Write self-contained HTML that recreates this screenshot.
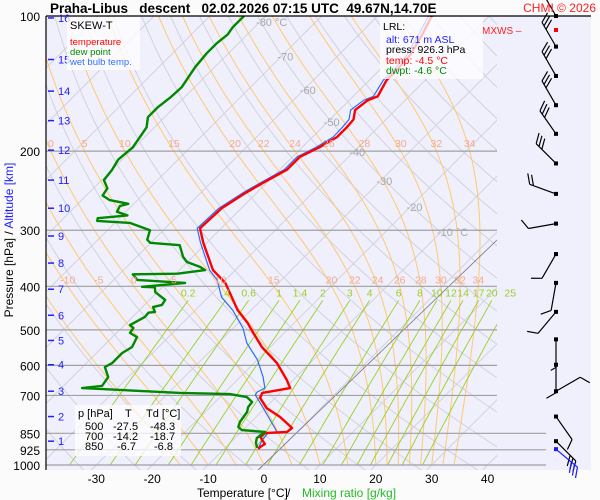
<!DOCTYPE html>
<html><head><meta charset="utf-8">
<style>
html,body{margin:0;padding:0;background:#fbfbfb;}
svg{display:block;font-family:"Liberation Sans",sans-serif;}
</style></head>
<body>
<svg id="chart" width="600" height="500" viewBox="0 0 600 500">
<defs>
<clipPath id="plotclip"><rect x="46" y="16" width="451" height="454"/></clipPath>
<clipPath id="plotclip2"><rect x="46" y="16" width="545" height="454"/></clipPath>
</defs>
<rect x="46" y="16" width="545" height="454" fill="#f0f0fd"/>
<g id="grid" clip-path="url(#plotclip)"></g>
<g id="plines"></g>
<g id="series" clip-path="url(#plotclip2)"></g>
<g id="winds"></g>
<line x1="46" y1="16" x2="591" y2="16" stroke="#000" stroke-width="1.2"/>
<line x1="46" y1="16" x2="46" y2="470" stroke="#000" stroke-width="1.2"/>
<g id="labels"></g>

<text x="50" y="13" font-size="13.5" font-weight="bold" fill="#000" xml:space="preserve">Praha-Libus   descent   02.02.2026 07:15 UTC  49.67N,14.70E</text>
<text x="596" y="12" font-size="12" fill="#ff2020" text-anchor="end">CHMI © 2026</text>
<text x="482" y="34" font-size="10" fill="#ff2020">MXWS –</text>

<g>
<rect x="67" y="17" width="73" height="53" fill="#ffffff" fill-opacity="0.75"/>
<text x="70" y="29" font-size="11" fill="#000">SKEW-T</text>
<text x="70" y="45" font-size="9.5" fill="#ff0000">temperature</text>
<text x="70" y="55" font-size="9.5" fill="#008800">dew point</text>
<text x="70" y="65" font-size="9.5" fill="#3070ff">wet bulb temp.</text>
</g>

<g>
<rect x="380" y="17" width="103" height="62" fill="#ffffff" fill-opacity="0.75"/>
<text x="383" y="30" font-size="10.5" fill="#000">LRL:</text>
<text x="386" y="43" font-size="10.5" fill="#2020ff">alt: 671 m ASL</text>
<text x="386" y="53" font-size="10.5" fill="#000">press: 926.3 hPa</text>
<text x="386" y="64" font-size="10.5" fill="#ff0000">temp: -4.5 °C</text>
<text x="386" y="74" font-size="10.5" fill="#008800">dwpt: -4.6 °C</text>
</g>

<g font-size="11" fill="#000">
<rect x="75" y="405" width="106" height="51" fill="#ffffff" fill-opacity="0.75"/>
<text x="78" y="417">p [hPa]</text><text x="125" y="417">T</text><text x="146" y="417">Td [°C]</text>
<text x="85" y="430">500</text><text x="113" y="430">-27.5</text><text x="150" y="430">-48.3</text>
<text x="85" y="440">700</text><text x="113" y="440">-14.2</text><text x="150" y="440">-18.7</text>
<text x="85" y="450">850</text><text x="117" y="450">-6.7</text><text x="154" y="450">-6.8</text>
</g>

<text y="497" font-size="12"><tspan x="197" fill="#000">Temperature [°C]</tspan><tspan x="287" fill="#000">/</tspan><tspan x="302" fill="#22bb22">Mixing ratio [g/kg]</tspan></text>
<text transform="translate(13,240) rotate(-90)" font-size="12" text-anchor="middle"><tspan fill="#000">Pressure [hPa]  /  </tspan><tspan fill="#2020ff">Altitude [km]</tspan></text>
</svg>
<script>
// ---- data ----
const pressureLevels = [100,200,300,400,500,600,700,850,925,1000];
const altKm = [1,2,3,4,5,6,7,8,9,10,11,12,13,14,15,16];
const altP = [885,780,685,598,528,464,406,355,309,268,232,199,171,147,125,101];
const xTicks = [-30,-20,-10,0,10,20,30,40];
const isoLabelT = [-80,-70,-60,-50,-40,-30,-20,-10];
const isoLabelP = [103,123,146,172,201,233,266,303];
const thetaW = [-15,-10,-5,0,5,10,15,20,22,24,26,28,30,32,34];
const thetaW200Labels = [0,5,10,15,20,22,24,26,28,30,32,34];
const thetaW400Labels = [-10,-5,0,5,10,15,20,22,24,26,28,30,32,34];
const mixRatios = [0.2,0.4,0.6,1,1.4,2,3,4,6,8,10,12,14,17,20,25];
const mixLabels = ["0.2",".4","0.6","1","1.4","2","3","4","6","8","10","12","14","17","20","25"];

const tempP = [100,110,122,133,139,151,154,162,170,177,186,196,206,220,235,247,268,297,320,368,393,452,483,493,546,593,647,674,691,709,747,782,827,844,849,866,898,912,921];
const tempT = [-50.3,-48.7,-47.2,-46.9,-46.9,-45.6,-46.7,-47.2,-45.8,-45.6,-45.6,-46.9,-48.7,-48.7,-50.6,-51.9,-53.5,-53.8,-50.6,-44.0,-39.5,-32.4,-28.3,-27.2,-21.5,-15.9,-11.1,-9.1,-13.2,-12.7,-9.7,-5.7,-1.6,-1.8,-5.5,-5.7,-3.6,-3.9,-3.9];

const wbP = [100,110,122,133,139,151,154,162,170,177,186,196,206,220,235,247,268,297,320,368,387,423,452,495,535,584,637,674,688,698,743,827,844,849,881,903,916];
const wbT = [-50.9,-49.3,-47.8,-47.5,-47.5,-46.4,-47.4,-48.0,-46.6,-46.4,-46.3,-47.5,-49.2,-49.2,-51.1,-52.4,-54.0,-54.3,-51.1,-44.6,-41.5,-37.6,-33.3,-28.3,-24.9,-19.9,-15.9,-13.6,-14.3,-14.1,-10.6,-4.7,-3.6,-5.0,-4.8,-4.3,-4.1];

const dewP = [100,106,110,115,121,130,144,152,160,168,177,196,209,220,232,242,251,257,262,265,273,278,282,286,289,300,315,320,324,344,353,362,368,375,376,387,393,401,402,412,429,440,445,456,458,468,488,495,508,519,546,563,593,605,637,667,674,691,695,706,724,743,762,802,823,836,844,853,871,893,916];
const dewT = [-83.9,-83.9,-83.5,-83.9,-83.9,-83.5,-82.3,-82.5,-83.0,-83.0,-81.4,-80.3,-80.7,-80.0,-79.6,-77.5,-77.1,-75.0,-71.0,-72.1,-71.6,-69.1,-73.9,-73.5,-67.3,-62.4,-61.2,-60.1,-54.4,-51.7,-50.1,-46.9,-45.4,-49.7,-57.6,-55.8,-46.7,-53.7,-51.3,-50.4,-47.2,-46.9,-48.1,-46.9,-47.9,-47.8,-49.0,-47.9,-47.6,-45.6,-44.7,-45.4,-45.4,-46.0,-43.6,-43.1,-46.3,-27.9,-18.8,-15.2,-13.4,-13.2,-12.5,-12.0,-11.4,-10.2,-5.7,-5.9,-6.1,-5.4,-4.3];

const windP = [100,117,136,158,183,213,249,290,339,393,456,525,598,685,780,885];
const windDir = [330,330,330,330,325,315,290,260,210,190,220,180,180,60,145,135];
const windSpd = [25,30,30,30,30,30,20,10,10,10,10,5,10,10,10,30];
const surfWindP = [922];
const surfWindDir = [130];
const surfWindSpd = [30];

// ---- axes ----
const NS = "http://www.w3.org/2000/svg";
function yP(p){ return 16 + 449*Math.log10(p/100); }
function xT(T,y){ return 264 + 5.59*T + (465 - y); }
function mk(tag, attrs, parent){ const e=document.createElementNS(NS,tag); for(const k in attrs) e.setAttribute(k,attrs[k]); parent.appendChild(e); return e; }
function pathFrom(pts){ return pts.map((q,i)=>(i?"L":"M")+q[0].toFixed(1)+","+q[1].toFixed(1)).join(""); }

const grid = document.getElementById("grid");
const plines = document.getElementById("plines");
const series = document.getElementById("series");
const labels = document.getElementById("labels");
const winds = document.getElementById("winds");

// isotherms
for (let T=-160; T<=50; T+=10){
  const pts=[[xT(T,470),470],[xT(T,16),16]];
  const l = mk("path",{d:pathFrom(pts),stroke:"#d2d2dc","stroke-width":1,fill:"none"},grid);
  
  
}
// dry adiabats
for (let th=220; th<=500; th+=10){
  const pts=[];
  for (let p=1050; p>=95; p-=10){ const y=yP(p); pts.push([xT(th*Math.pow(p/1000,0.2857)-273.15,y),y]); }
  const l = mk("path",{d:pathFrom(pts),stroke:"#d2d2dc","stroke-width":1,fill:"none"},grid);
  
  
}
// moist adiabats
function es(T){ return 6.112*Math.exp(17.67*T/(T+243.5)); }
function dTdp(p,T){
  const Tk=T+273.15, e=es(T), rs=0.622*e/(p-e);
  const Rd=287, Cp=1004, Lv=2.5e6;
  return (Rd*Tk + Lv*rs)/(Cp + Lv*Lv*rs*0.622/(Rd*Tk*Tk))/p;
}
const moistAt = {};
thetaW.forEach(tw=>{
  let T=tw; const pts=[]; moistAt[tw]={};
  for (let p=1000; p>=99; p-=1){
    const y=yP(p);
    if (p%5===0) pts.push([xT(T,y),y]);
    if (p===200) moistAt[tw][200]=xT(T,y);
    if (p===400) moistAt[tw][400]=xT(T,y);
    T += dTdp(p,T)*(-1);
  }
  const l = mk("path",{d:pathFrom(pts),stroke:"#ffc870","stroke-width":1,fill:"none"},grid);
  
  
});
// mixing ratio lines
function tdFromW(w,p){ const e=w*p/(622+w); const a=Math.log(e/6.112); return 243.5*a/(17.67-a); }
mixRatios.forEach((w,i)=>{
  const pts=[];
  for (let p=430; p<=1000; p+=10){ const y=yP(p); pts.push([xT(tdFromW(w,p),y),y]); }
  const l = mk("path",{d:pathFrom(pts),stroke:"#99d020","stroke-width":0.9,fill:"none"},grid);
  
  
  const t = mk("text",{x:pts[0][0],y:yP(430)-4,"font-size":10.5,fill:"#99d020","text-anchor":"middle"},labels);
  t.textContent = mixLabels[i];
  
  
});
// reference diagonal line
{
  const l = mk("line",{x1:258,y1:470,x2:497,y2:240,stroke:"#707080","stroke-width":0.8},grid);
  
  
}
// moist adiabat labels
thetaW200Labels.forEach(tw=>{
  const t = mk("text",{x:moistAt[tw][200],y:yP(200)-4,"font-size":10.5,fill:"#f4a88a","text-anchor":"middle"},labels);
  t.textContent = tw;
  
  
});
thetaW400Labels.forEach(tw=>{
  const t = mk("text",{x:moistAt[tw][400],y:yP(400)-3,"font-size":10.5,fill:"#f4a88a","text-anchor":"middle"},labels);
  t.textContent = tw;
  
  
});
// isotherm labels
isoLabelT.forEach((T,i)=>{
  const y=yP(isoLabelP[i]);
  const t = mk("text",{x:xT(T,y)-4,y:y+4,"font-size":11,fill:"#a8a8a8"},labels);
  t.textContent = (i===0||i===isoLabelT.length-1) ? T+" °C" : T;
  
  
});
// pressure lines and labels
pressureLevels.forEach(p=>{
  const y=yP(p);
  const x2 = p>=850 ? 546 : 497;
  if (p>100){
    const l = mk("line",{x1:46,y1:y,x2:x2,y2:y,stroke:"#a0a0a0","stroke-width":1.2},plines);
    
    
  }
  const t = mk("text",{x:40,y:y+5,"font-size":12,fill:"#000","text-anchor":"end"},labels);
  t.textContent = p;
  
  
});
// altitude ticks
altKm.forEach((k,i)=>{
  const y=yP(altP[i]);
  const l = mk("line",{x1:48,y1:y,x2:54,y2:y,stroke:"#2020ff","stroke-width":1.5},labels);
  
  
  const t = mk("text",{x:58,y:y+4,"font-size":11,fill:"#2020ff"},labels);
  t.textContent = k;
  
  
});
// x ticks
xTicks.forEach(T=>{
  const t = mk("text",{x:xT(T,465),y:483,"font-size":12,fill:"#000","text-anchor":"middle"},labels);
  t.textContent = T;
  
  
});
// series
function profile(P,T,color,w,name){
  const pts=P.map((p,i)=>{ const y=yP(p); return [xT(T[i],y),y]; });
  const l = mk("path",{d:pathFrom(pts),stroke:color,"stroke-width":w,fill:"none","stroke-linejoin":"round"},series);
  
  
}
profile(wbP,wbT,"#2a6cff",1.2,"wet-bulb-line");
profile(tempP,tempT,"#ff0000",2.4,"temperature-line");
profile(dewP,dewT,"#008800",2.4,"dew-point-line");

// wind barbs
function barb(p,dir,spd,color){
  const y0=yP(p), x0=556;
  const r=dir*Math.PI/180, ux=Math.sin(r), uy=-Math.cos(r);
  const px=-uy, py=ux, L=28;
  const xe=x0+ux*L, ye=y0+uy*L;
  const g = mk("g",{stroke:color,"stroke-width":1.2,fill:"none"},winds);
  
  
  mk("line",{x1:x0,y1:y0,x2:xe,y2:ye},g);
  mk("rect",{x:x0-2,y:y0-2,width:4,height:4,fill:color,stroke:"none"},g);
  let s=spd, k=0;
  while (s>=10){ const bx=xe-ux*4*k, by=ye-uy*4*k;
    mk("line",{x1:bx,y1:by,x2:bx+(px*0.87+ux*0.5)*11,y2:by+(py*0.87+uy*0.5)*11},g); s-=10; k++; }
  if (s>=5){ const bx=xe-ux*4*k, by=ye-uy*4*k;
    mk("line",{x1:bx,y1:by,x2:bx+(px*0.87+ux*0.5)*6,y2:by+(py*0.87+uy*0.5)*6},g); }
}
windP.forEach((p,i)=>barb(p,windDir[i],windSpd[i],"#000"));
surfWindP.forEach((p,i)=>barb(p,surfWindDir[i],surfWindSpd[i],"#1a1aff"));
{
  const d = mk("rect",{x:554,y:28,width:4,height:4,fill:"#ff0000"},winds);
  
  
}
</script>
</body></html>
